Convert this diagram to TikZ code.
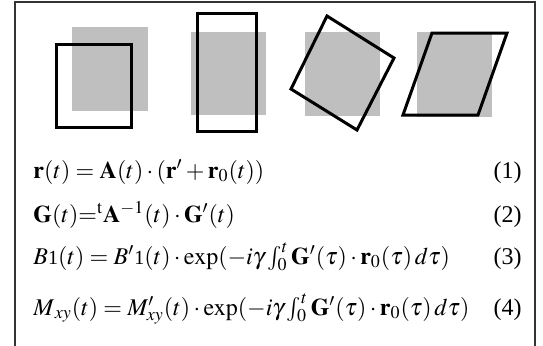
\documentclass[tikz,border=0pt]{standalone}
\usepackage{mathptmx}
\usepackage[no-math]{fontspec}
\setmainfont{Liberation Serif}
\usepackage{tikz}

\tikzset{
  frameline/.style={draw=black!80,line width=0.8pt},
  refsquare/.style={fill=black!25,draw=none},
  mappedshape/.style={draw=black,line width=1.5pt,line join=miter},
  eqline/.style={anchor=base west,inner sep=0pt,font=\fontsize{12}{14}\selectfont},
  eqnum/.style={anchor=base east,inner sep=0pt,font=\fontsize{12}{14}\selectfont}
}
\newcommand{\smallone}{\mbox{\fontsize{10}{12}\selectfont 1}}

\begin{document}
\begin{tikzpicture}[x=0.5pt,y=-0.5pt]
  \useasboundingbox (0,0) rectangle (543,345);

  % open frame
  \draw[frameline] (15,346) -- (15,2) -- (535,2) -- (535,346);

  % shift
  \fill[refsquare] (72,27) rectangle (148,111);
  \draw[mappedshape] (57,44) rectangle (132,127);
  % stretch
  \fill[refsquare] (191,32) rectangle (266,115);
  \draw[mappedshape] (198,13) rectangle (257,131);
  % rotation
  \fill[refsquare] (305,32) rectangle (380,116);
  \draw[mappedshape] (327,16) -- (394,58) -- (357,130) -- (291,89) -- cycle;
  % shear
  \fill[refsquare] (417,32) rectangle (492,117);
  \draw[mappedshape] (432,33) -- (507,33) -- (478,115) -- (403,115) -- cycle;

  % equations
  \node[eqline] (eqa) at (33,178)
    {$\mathbf{r}(t)=\mathbf{A}(t)\cdot(\mathbf{r}'+\mathbf{r}_0(t))$};
  \node[eqline] (eqb) at (33,222)
    {$\mathbf{G}(t){=}{}^{\mathrm{t}}\mathbf{A}^{-1}(t)\cdot\mathbf{G}'(t)$};
  \node[eqline] (eqc) at (33,264)
    {$B\smallone(t)=B'\smallone(t)\cdot\exp(-i\gamma\int_0^t\mathbf{G}'(\tau)\cdot\mathbf{r}_0(\tau)\,d\tau)$};
  \node[eqline] (eqd) at (33,315)
    {$M_{\,xy}(t)=M'_{xy}(t)\cdot\exp(-i\gamma\int_0^t\mathbf{G}'(\tau)\cdot\mathbf{r}_0(\tau)\,d\tau)$};

  \node[eqnum] (numa) at (522,178) {(1)};
  \node[eqnum] (numb) at (522,222) {(2)};
  \node[eqnum] (numc) at (522,264) {(3)};
  \node[eqnum] (numd) at (522,315) {(4)};
\end{tikzpicture}
\end{document}
